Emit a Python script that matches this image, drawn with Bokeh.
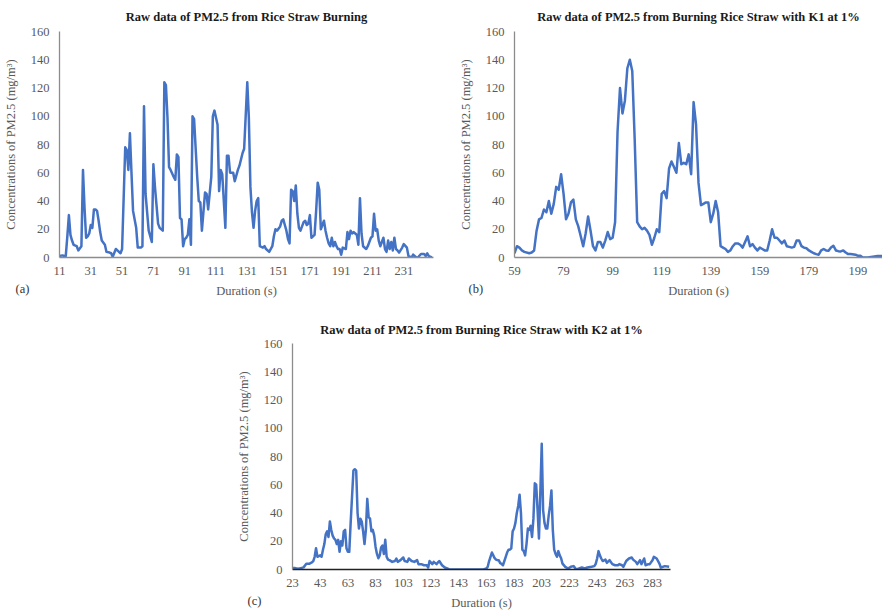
from bokeh.plotting import figure
from bokeh.models import Range1d, FixedTicker, Spacer, ColumnDataSource, Title
from bokeh.layouts import column, row
from bokeh.embed import file_html
from bokeh.resources import INLINE

# ---------------- data ----------------
TITLE_A = "Raw data of PM2.5 from Rice Straw Burning"
TITLE_B = "Raw data of PM2.5 from Burning Rice Straw with K1 at 1%"
TITLE_C = "Raw data of PM2.5 from Burning Rice Straw with K2 at 1%"
X_LABEL = "Duration (s)"
Y_LABEL = "Concentrations of PM2.5 (mg/m³)"
TAGS = ["(a)", "(b)", "(c)"]

Y_TICKS = [0, 20, 40, 60, 80, 100, 120, 140, 160]
X_TICKS_A = [11, 31, 51, 71, 91, 111, 131, 151, 171, 191, 211, 231]
X_TICKS_B = [59, 79, 99, 119, 139, 159, 179, 199]
X_TICKS_C = [23, 43, 63, 83, 103, 123, 143, 163, 183, 203, 223, 243, 263, 283]

T_A = [11, 13, 14, 15, 16, 17, 18, 19, 20, 22, 23, 25, 26, 27, 28, 29, 30, 31, 32, 33,
       34, 35, 36, 37, 38, 40, 41, 43, 44, 45, 47, 48, 50, 51, 53, 54, 55, 56, 57, 58,
       60, 61, 63, 64, 65, 66, 68, 70, 71, 72, 74, 75, 77, 78, 79, 80, 81, 82, 84, 85,
       86, 87, 88, 89, 90, 91, 92, 93, 94, 95, 96, 97, 99, 100, 101, 102, 104, 105, 106, 108,
       109, 110, 112, 113, 114, 115, 117, 118, 119, 120, 122, 123, 125, 126, 128, 129, 131, 132, 133, 134,
       135, 136, 137, 138, 139, 141, 142, 143, 145, 147, 148, 149, 150, 152, 153, 154, 155, 156, 157, 158,
       159, 160, 161, 162, 163, 164, 165, 166, 167, 168, 169, 170, 171, 172, 174, 175, 176, 177, 178, 179,
       180, 181, 182, 183, 184, 185, 186, 187, 188, 189, 190, 191, 192, 194, 195, 196, 197, 198, 199, 200,
       201, 202, 203, 204, 205, 207, 208, 209, 210, 211, 212, 213, 214, 215, 216, 217, 218, 219, 220, 221,
       222, 223, 224, 225, 226, 227, 228, 230, 231, 233, 234, 236, 237, 239, 240, 242, 244, 245, 246, 247,
       249]
V_A = [1, 1.5, 1, 1, 15, 30, 16, 12, 9, 8, 5, 8, 62, 35, 14, 15, 17, 23, 21, 34,
       34, 33, 26, 18, 12, 9, 4, 3.5, 3, 0.5, 6, 5, 3, 6, 78, 76, 62, 88, 60, 33,
       21, 7, 7, 8, 107, 45, 19, 11, 66, 50, 24, 21, 19, 124, 122, 99, 64, 62, 57, 55,
       73, 71, 28, 27, 8, 13, 14, 16, 27, 9, 100, 98, 57, 40, 39, 19, 46, 45, 34, 57,
       100, 104, 94, 47, 62, 59, 21, 72, 72, 60, 60, 54, 62, 65, 74, 77, 124, 99, 50, 32,
       21, 33, 40, 42, 8, 7, 8, 6, 4, 8, 15, 20, 19, 22, 26, 27, 23, 19, 13, 10,
       48, 47, 40, 51, 31, 21, 19, 22, 25, 26, 23, 24, 30, 14, 16, 33, 53, 48, 20, 23,
       26, 19, 14, 10, 8, 14, 8, 11, 8, 6, 6, 2, 7, 6, 18, 13, 19, 17, 18, 17,
       16, 9, 42, 17, 8, 6, 8, 11, 14, 15, 31, 19, 20, 12, 8, 11, 14, 6, 4, 12,
       6, 11, 5, 14, 6, 5, 3.5, 7, 9.5, 7, 1, 0, 2, 0, 0, 2.5, 2.5, 1, 3, 1,
       0]

T_B = [59, 60, 61, 62, 63, 65, 66, 67, 68, 69, 70, 71, 72, 73, 74, 75, 76, 77, 78, 79,
       80, 81, 82, 83, 84, 85, 86, 87, 88, 89, 90, 91, 92, 93, 94, 95, 96, 97, 98, 99,
       100, 101, 102, 103, 104, 105, 106, 107, 108, 109, 110, 111, 112, 113, 114, 115, 116, 117, 118, 119,
       120, 121, 122, 123, 124, 125, 126, 127, 128, 129, 130, 131, 132, 133, 134, 135, 136, 137, 138, 139,
       140, 141, 142, 143, 144, 145, 146, 147, 148, 149, 150, 151, 152, 153, 154, 155, 156, 157, 158, 159,
       160, 161, 162, 163, 164, 165, 166, 167, 168, 169, 170, 171, 172, 173, 174, 175, 176, 177, 178, 179,
       180, 181, 182, 183, 184, 185, 186, 187, 188, 189, 190, 191, 192, 193, 194, 195, 196, 198, 199, 200,
       201, 203, 205, 207, 209]
V_B = [3, 8, 7, 5, 4, 3, 3.5, 5, 19, 27, 28, 34, 32, 40, 31, 38, 50, 48, 59, 45,
       27, 31, 39, 41, 27, 22, 15, 8, 17, 29, 19, 8, 5, 11, 11, 7, 12, 18, 13, 14,
       25, 89, 120, 102, 111, 134, 140, 132, 83, 25, 22, 20, 21, 19, 16, 9, 14, 20, 18, 45,
       47, 42, 63, 68, 64, 60, 81, 66, 67, 66, 73, 59, 110, 94, 53, 37, 38, 39, 39, 25,
       31, 40, 32, 8, 7, 6, 4, 5, 8, 10, 10, 9, 7, 11, 15, 8, 9.5, 7, 5, 7,
       6, 5, 5, 12, 20, 14, 14, 12, 10, 12, 8, 7.5, 7, 7.5, 12, 12, 8, 7, 6.5, 5,
       4, 3, 2.4, 2, 5, 6, 5, 4.7, 7, 8.3, 5, 4.5, 4.3, 5, 3.5, 2.4, 2.4, 2, 1.2, 1.2,
       0, 0, 0.5, 1, 1]

T_C = [23, 25, 27, 29, 31, 33, 35, 37, 38, 39, 40, 41, 43, 44, 45, 46, 47, 48, 49, 50,
       51, 52, 53, 54, 55, 56, 57, 58, 59, 60, 61, 62, 63, 64, 65, 67, 68, 69, 70, 71,
       72, 73, 74, 75, 76, 77, 78, 79, 80, 81, 82, 83, 84, 85, 86, 87, 88, 89, 90, 91,
       92, 93, 95, 97, 98, 99, 101, 103, 104, 106, 107, 109, 111, 113, 114, 116, 118, 120, 121, 122,
       124, 125, 127, 128, 129, 131, 133, 136, 138, 161, 163, 164, 165, 166, 167, 168, 169, 170, 171, 172,
       173, 174, 175, 177, 178, 179, 180, 181, 182, 183, 184, 185, 186, 187, 188, 189, 190, 191, 192, 193,
       194, 195, 196, 197, 198, 199, 200, 201, 202, 203, 204, 205, 206, 207, 208, 209, 210, 211, 212, 213,
       214, 215, 216, 217, 218, 220, 222, 224, 226, 228, 230, 232, 234, 236, 239, 241, 242, 243, 244, 245,
       246, 247, 249, 250, 252, 254, 256, 258, 259, 261, 262, 264, 266, 268, 269, 271, 272, 274, 275, 277,
       278, 280, 281, 283, 284, 286, 288, 289, 292, 295]
V_C = [1, 1, 0.5, 1, 1.5, 4, 4, 5, 6, 9, 15, 9, 10, 9, 14, 18, 25, 27, 23, 34,
       28, 24, 22, 21, 18, 21, 12.5, 20, 17, 27, 28, 15, 12.5, 12.5, 33, 70, 71, 70, 40, 29,
       36, 34, 27, 18, 28, 50, 37, 36, 27, 28, 24, 16, 11, 8, 10, 15.6, 17, 11, 21, 9,
       7, 6.6, 5.4, 6, 7.8, 5.4, 6.6, 8.5, 6, 5.4, 7.8, 6, 5.4, 6.6, 3.8, 3.8, 3, 3, 1.4, 6,
       3.8, 5.4, 3.8, 5, 6, 3, 1.4, 0.2, 0, 0, 0.7, 2, 6, 9, 12, 10, 8, 7, 6.6, 6.6,
       4.5, 4, 3, 9, 12, 14, 14, 15, 27, 29, 33, 40, 45, 53, 40, 14, 13, 10, 18, 29,
       28, 31, 23, 36, 61, 60, 42, 22, 55, 89, 42, 33, 29, 29, 38, 45, 56, 28, 14, 11,
       9, 13, 10, 8, 4.2, 1.9, 0.7, 1.9, 2.4, 0, 0.7, 1.4, 0.7, 1.4, 1.9, 2.4, 4, 7.8, 13, 10,
       7.8, 6, 7, 4.7, 6.6, 3.8, 3, 3, 3.8, 3, 1.9, 6, 7.8, 8.5, 7, 5.4, 3.8, 6.6, 3.8, 7.8,
       3, 3.8, 3.8, 6.6, 9, 7.8, 4.2, 1.4, 2.4, 1.9]

# ---------------- styling ----------------
FONT = "Liberation Serif"
LINE_COLOR = "#4472C4"
TEXT_GRAY = "#595959"


def make_panel(title, t, v, xticks, xr, width, height, bl, br, bt, bb,
               title_standoff, tag, tag_offset, xaxis_color="#8c8c8c"):
    p = figure(width=width, height=height,
               x_range=Range1d(*xr), y_range=Range1d(0, 160),
               output_backend="svg", toolbar_location=None,
               min_border_left=bl, min_border_right=br,
               min_border_top=bt, min_border_bottom=bb,
               background_fill_color="white", border_fill_color="white")
    p.outline_line_color = None
    p.xgrid.visible = False
    p.ygrid.visible = False

    p.title.text = title
    p.title.align = "center"
    p.title.text_font = FONT
    p.title.text_font_size = "12.5px"
    p.title.text_font_style = "bold"
    p.title.text_color = "#1a1a1a"
    p.title.standoff = title_standoff

    src = ColumnDataSource(dict(t=t, v=v))
    p.line(x="t", y="v", source=src, line_color=LINE_COLOR, line_width=2.5,
           line_join="round")

    for ax in (p.xaxis[0], p.yaxis[0]):
        ax.major_tick_line_color = None
        ax.minor_tick_line_color = None
        ax.major_label_text_font = FONT
        ax.major_label_text_font_size = "12.5px"
        ax.major_label_text_color = TEXT_GRAY
        ax.axis_label_text_font = FONT
        ax.axis_label_text_font_size = "12.5px"
        ax.axis_label_text_font_style = "normal"
        ax.axis_label_text_color = TEXT_GRAY
        ax.axis_line_width = 1.3

    p.xaxis.ticker = FixedTicker(ticks=xticks)
    p.yaxis.ticker = FixedTicker(ticks=Y_TICKS)
    p.xaxis.axis_label = X_LABEL
    p.yaxis.axis_label = Y_LABEL
    p.xaxis.axis_line_color = xaxis_color
    p.yaxis.axis_line_color = "#8c8c8c"
    p.xaxis.major_label_standoff = 3
    p.xaxis.axis_label_standoff = 6
    p.yaxis.major_label_standoff = 4
    p.yaxis.axis_label_standoff = 10

    # panel tag, pulled up onto the row of the x-axis label
    tag_title = Title(text=tag, align="left", offset=tag_offset,
                      vertical_align="top",
                      text_font=FONT, text_font_size="12.5px",
                      text_font_style="normal", text_color="#333333")
    try:
        tag_title.standoff = -37
    except Exception:
        tag_title.standoff = 0
    p.add_layout(tag_title, "below")
    return p


pa = make_panel(TITLE_A, T_A, V_A, X_TICKS_A, (11, 250), 442, 300, 56, 9, 30, 43, 15,
                TAGS[0], -44)
pb = make_panel(TITLE_B, T_B, V_B, X_TICKS_B, (59, 209), 440, 300, 72, 0, 30, 43, 15,
                TAGS[1], -46)
pc = make_panel(TITLE_C, T_C, V_C, X_TICKS_C, (23, 296), 448, 312, 60, 10, 43, 43, 13,
                TAGS[2], -45, xaxis_color="#222222")

layout = column(row(pa, pb), row(Spacer(width=232, height=312), pc))

open("out.html", "w").write(file_html(layout, INLINE))
